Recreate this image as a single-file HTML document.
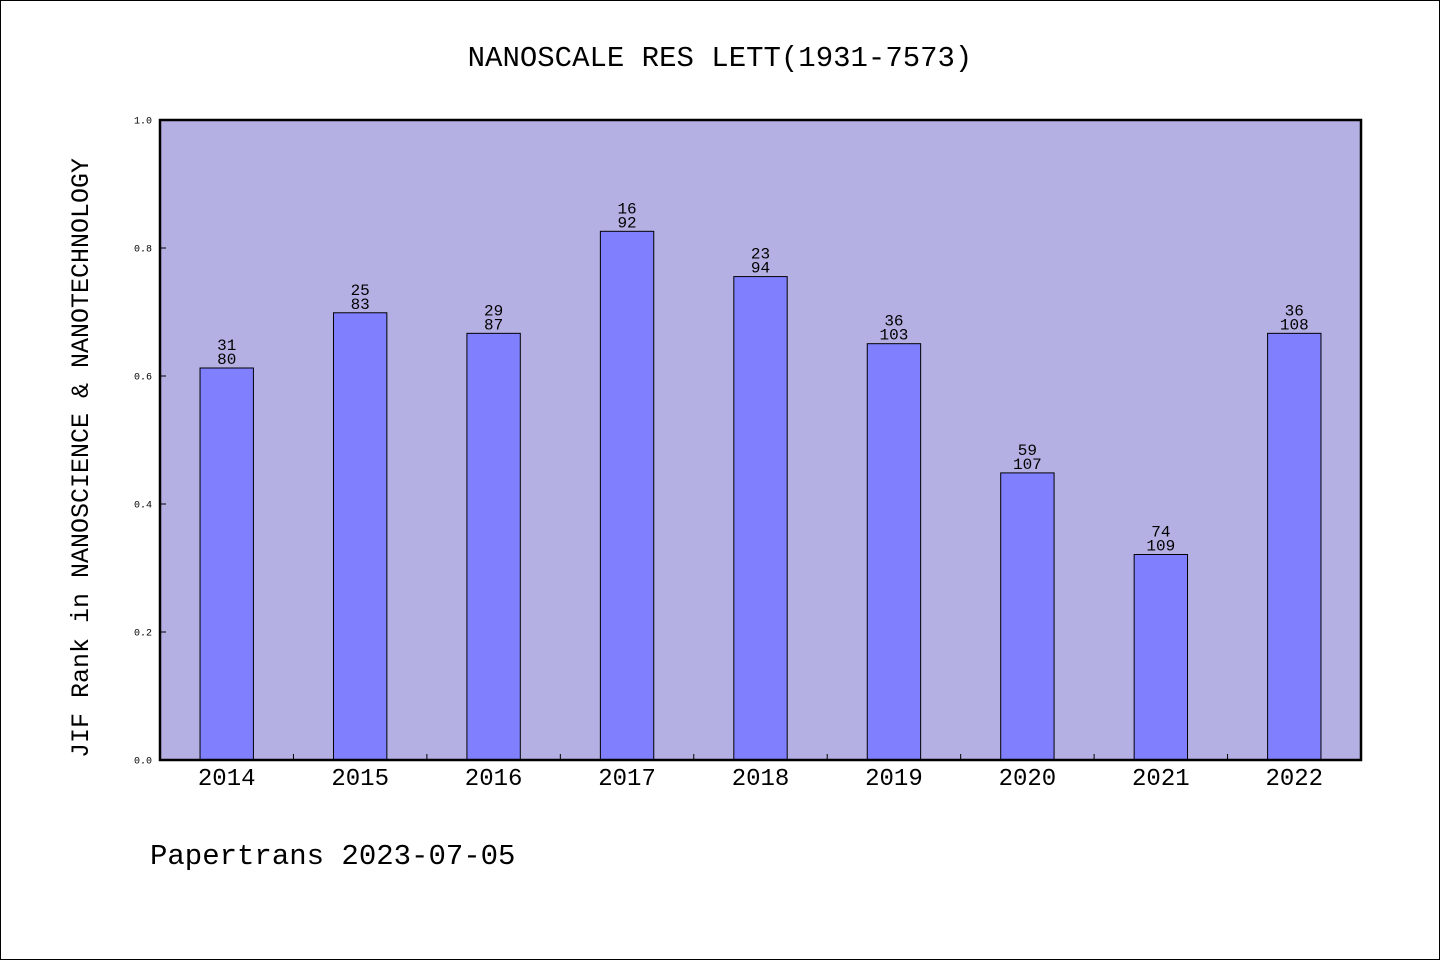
<!DOCTYPE html>
<html><head><meta charset="utf-8">
<style>
html,body{margin:0;padding:0;background:#fff;}
body{width:1440px;height:960px;overflow:hidden;}
svg text{font-family:"WenQuanYi Zen Hei","Liberation Mono",monospace;}
</style></head>
<body>
<svg id="chart" width="1440" height="960" xmlns="http://www.w3.org/2000/svg">
<rect x="0.5" y="0.5" width="1439" height="959" fill="#fff" stroke="#000" stroke-width="1"/>
<text x="720" y="66" font-size="29" text-anchor="middle">NANOSCALE RES LETT(1931-7573)</text>
<rect x="160" y="120" width="1201" height="640" fill="#b5b0e3"/>
<g id="bars"></g>
<g id="axes"></g>
<rect x="160" y="120" width="1201" height="640" fill="none" stroke="#000" stroke-width="2.5"/>
<text transform="translate(88,458) rotate(-90)" font-size="25" text-anchor="middle">JIF Rank in NANOSCIENCE &amp; NANOTECHNOLOGY</text>
<text x="150" y="864" font-size="29">Papertrans 2023-07-05</text>
</svg>
<script>
const years = ["2014","2015","2016","2017","2018","2019","2020","2021","2022"];
const ranks = [31,25,29,16,23,36,59,74,36];
const totals = [80,83,87,92,94,103,107,109,108];
const yTicks = ["0.0","0.2","0.4","0.6","0.8","1.0"];

const NS="http://www.w3.org/2000/svg";
const X0=160,X1=1361,Y0=760,Y1=120;
const bw=(X1-X0)/years.length;
const xC=i=>X0+bw*(i+0.5);
const yS=v=>Y0-(Y0-Y1)*v;
function mk(tag,attrs,parent){const e=document.createElementNS(NS,tag);for(const k in attrs)e.setAttribute(k,attrs[k]);parent.appendChild(e);return e;}
const gb=document.getElementById('bars'),ga=document.getElementById('axes');
years.forEach((yr,i)=>{
  const v=1-ranks[i]/totals[i];
  const w=bw*0.4;
  const r=mk('rect',{x:xC(i)-w/2,y:yS(v),width:w,height:Y0-yS(v),fill:'#8080ff',stroke:'#000','stroke-width':1},gb);
  
  
  const t1=mk('text',{x:xC(i),y:yS(v)-18,'font-size':16,'text-anchor':'middle'},gb);
  t1.textContent=ranks[i];
  
  
  const t2=mk('text',{x:xC(i),y:yS(v)-4,'font-size':16,'text-anchor':'middle'},gb);
  t2.textContent=totals[i];
  
  
  const xl=mk('text',{x:xC(i),y:785,'font-size':24,'text-anchor':'middle'},ga);
  xl.textContent=yr;
  
  
  if(i>0){
    const tk=mk('line',{x1:X0+bw*i,x2:X0+bw*i,y1:Y0,y2:Y0-6,stroke:'#000','stroke-width':1},ga);
    
    
  }
});
yTicks.forEach(t=>{
  const v=parseFloat(t);
  const ln=mk('line',{x1:X0,x2:X0+6,y1:yS(v),y2:yS(v),stroke:'#000','stroke-width':1},ga);
  
  
  const tx=mk('text',{x:152,y:yS(v)+3.5,'font-size':10,'text-anchor':'end'},ga);
  tx.textContent=t;
  
  
});
</script>
</body></html>
